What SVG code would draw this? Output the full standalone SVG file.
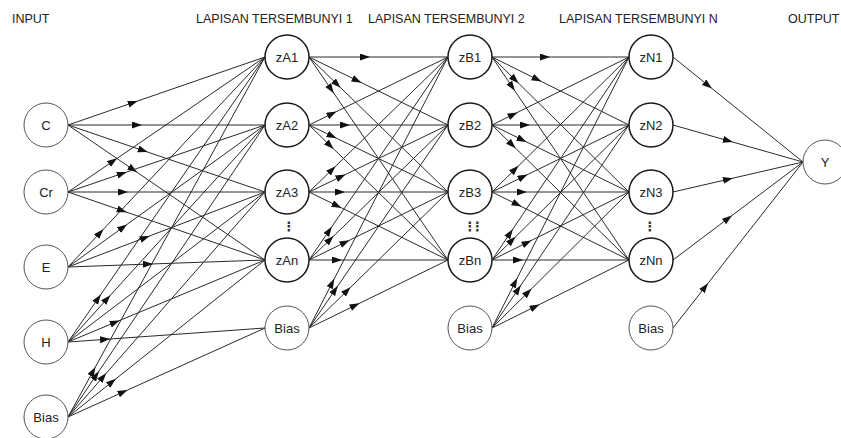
<svg xmlns="http://www.w3.org/2000/svg" width="841" height="438" viewBox="0 0 841 438">
<style>
.lbl{font-family:"Liberation Sans",Arial,sans-serif;font-size:12.5px;fill:#222}
.t{font-family:"Liberation Sans",Arial,sans-serif;font-size:13px;fill:#222;text-anchor:middle}
.dots{font-family:"DejaVu Sans",sans-serif;font-size:13px;font-weight:bold;fill:#333;text-anchor:middle}
.nb{fill:#fff;stroke:#1a1a1a;stroke-width:1.5}
.nt{fill:#fff;stroke:#555;stroke-width:1}
#connectors path{fill:none;stroke:#2a2a2a;stroke-width:1;marker-mid:url(#ah)}
</style>
<defs>
<marker id="ah" markerUnits="userSpaceOnUse" markerWidth="11" markerHeight="8" refX="5" refY="3.5" orient="auto">
<path d="M0,0 L10,3.5 L0,7 z" fill="#111"/>
</marker>
</defs>
<rect width="841" height="438" fill="#fff"/>
<text class="lbl" x="12" y="23">INPUT</text>
<text class="lbl" x="196" y="23">LAPISAN TERSEMBUNYI 1</text>
<text class="lbl" x="368" y="23">LAPISAN TERSEMBUNYI 2</text>
<text class="lbl" x="559" y="23">LAPISAN TERSEMBUNYI N</text>
<text class="lbl" x="788" y="23">OUTPUT</text>
<g id="connectors">
<!-- input -> layer A -->
<path d="M68,125 L133,102.6 L265,57"/>
<path d="M68,125 L137,125 L265,125"/>
<path d="M68,125 L143,150.5 L265,192"/>
<path d="M68,125 L133,169.5 L265,260"/>
<path d="M68,192 L113,161.2 L265,57"/>
<path d="M68,192 L122,173.6 L265,125"/>
<path d="M68,192 L123,192 L265,192"/>
<path d="M68,192 L122,210.6 L265,260"/>
<path d="M68,267 L100,232.9 L265,57"/>
<path d="M68,267 L123,227.3 L265,125"/>
<path d="M68,267 L145,237.7 L265,192"/>
<path d="M68,267 L148,264.1 L265,260"/>
<path d="M68,342 L98,298.6 L265,57"/>
<path d="M68,342 L107,299 L265,125"/>
<path d="M68,342 L265,192"/>
<path d="M68,342 L115,322.4 L265,260"/>
<path d="M68,342 L105,339.4 L265,328"/>
<path d="M68,417 L93,371.3 L265,57"/>
<path d="M68,417 L96,375.5 L265,125"/>
<path d="M68,417 L103,377 L265,192"/>
<path d="M68,417 L112,381.9 L265,260"/>
<path d="M68,417 L123,392.1 L265,328"/>
<!-- layer A -> layer B -->
<path d="M309,57 L365,57 L448,57"/>
<path d="M309,57 L357,80.5 L448,125"/>
<path d="M309,57 L337,84.2 L448,192"/>
<path d="M309,57 L331,89.1 L448,260"/>
<path d="M309,125 L332,113.8 L448,57"/>
<path d="M309,125 L345,125 L448,125"/>
<path d="M309,125 L332,136.1 L448,192"/>
<path d="M309,125 L330,145.4 L448,260"/>
<path d="M309,192 L332,169.7 L448,57"/>
<path d="M309,192 L341,176.6 L448,125"/>
<path d="M309,192 L340,192 L448,192"/>
<path d="M309,192 L337,205.7 L448,260"/>
<path d="M309,260 L329,230.8 L448,57"/>
<path d="M309,260 L330,239.6 L448,125"/>
<path d="M309,260 L345,242.4 L448,192"/>
<path d="M309,260 L337,260 L448,260"/>
<path d="M309,328 L332,283.2 L448,57"/>
<path d="M309,328 L335,290 L448,125"/>
<path d="M309,328 L347,290.8 L448,192"/>
<path d="M309,328 L355,305.5 L448,260"/>
<!-- layer B -> layer N -->
<path d="M492,57 L545,57 L629,57"/>
<path d="M492,57 L537,79.3 L629,125"/>
<path d="M492,57 L515,79.7 L629,192"/>
<path d="M492,57 L512,86.6 L629,260"/>
<path d="M492,125 L513,114.6 L629,57"/>
<path d="M492,125 L525,125 L629,125"/>
<path d="M492,125 L522,139.7 L629,192"/>
<path d="M492,125 L512,144.7 L629,260"/>
<path d="M492,192 L515,169.3 L629,57"/>
<path d="M492,192 L523,176.8 L629,125"/>
<path d="M492,192 L522,192 L629,192"/>
<path d="M492,192 L517,204.4 L629,260"/>
<path d="M492,260 L510,233.3 L629,57"/>
<path d="M492,260 L512,240.3 L629,125"/>
<path d="M492,260 L527,242.6 L629,192"/>
<path d="M492,260 L518,260 L629,260"/>
<path d="M492,328 L515,282.5 L629,57"/>
<path d="M492,328 L518,289.5 L629,125"/>
<path d="M492,328 L528,292.3 L629,192"/>
<path d="M492,328 L535,306.7 L629,260"/>
<!-- layer N -> output -->
<path d="M673,57 L708,85.3 L803,162"/>
<path d="M673,125 L728,140.7 L803,162"/>
<path d="M673,192 L728,179.3 L803,162"/>
<path d="M673,260 L728,218.5 L803,162"/>
<path d="M673,328 L705,287.1 L803,162"/>
</g>
<g id="in-C"><circle class="nt" cx="46" cy="125" r="22"/><text class="t" x="46" y="129.5">C</text></g>
<g id="in-Cr"><circle class="nt" cx="46" cy="192" r="22"/><text class="t" x="46" y="196.5">Cr</text></g>
<g id="in-E"><circle class="nt" cx="46" cy="267" r="22"/><text class="t" x="46" y="271.5">E</text></g>
<g id="in-H"><circle class="nt" cx="46" cy="342" r="22"/><text class="t" x="46" y="346.5">H</text></g>
<g id="in-Bias"><circle class="nt" cx="46" cy="417" r="22"/><text class="t" x="46" y="421.5">Bias</text></g>
<g id="zA1"><circle class="nb" cx="287" cy="57" r="22"/><text class="t" x="287" y="61.5">zA1</text></g>
<g id="zA2"><circle class="nb" cx="287" cy="125" r="22"/><text class="t" x="287" y="129.5">zA2</text></g>
<g id="zA3"><circle class="nb" cx="287" cy="192" r="22"/><text class="t" x="287" y="196.5">zA3</text></g>
<text class="dots" x="289" y="231">⋮</text>
<g id="zAn"><circle class="nb" cx="287" cy="260" r="22"/><text class="t" x="287" y="264.5">zAn</text></g>
<g id="biasA"><circle class="nt" cx="287" cy="328" r="22"/><text class="t" x="287" y="332.5">Bias</text></g>
<g id="zB1"><circle class="nb" cx="470" cy="57" r="22"/><text class="t" x="470" y="61.5">zB1</text></g>
<g id="zB2"><circle class="nb" cx="470" cy="125" r="22"/><text class="t" x="470" y="129.5">zB2</text></g>
<g id="zB3"><circle class="nb" cx="470" cy="192" r="22"/><text class="t" x="470" y="196.5">zB3</text></g>
<text class="dots" x="471" y="231" letter-spacing="-5.5">⋮⋮</text>
<g id="zBn"><circle class="nb" cx="470" cy="260" r="22"/><text class="t" x="470" y="264.5">zBn</text></g>
<g id="biasB"><circle class="nt" cx="470" cy="328" r="22"/><text class="t" x="470" y="332.5">Bias</text></g>
<g id="zN1"><circle class="nb" cx="651" cy="57" r="22"/><text class="t" x="651" y="61.5">zN1</text></g>
<g id="zN2"><circle class="nb" cx="651" cy="125" r="22"/><text class="t" x="651" y="129.5">zN2</text></g>
<g id="zN3"><circle class="nb" cx="651" cy="192" r="22"/><text class="t" x="651" y="196.5">zN3</text></g>
<text class="dots" x="650" y="231">⋮</text>
<g id="zNn"><circle class="nb" cx="651" cy="260" r="22"/><text class="t" x="651" y="264.5">zNn</text></g>
<g id="biasN"><circle class="nt" cx="651" cy="328" r="22"/><text class="t" x="651" y="332.5">Bias</text></g>
<g id="out-Y"><circle class="nt" cx="825" cy="162" r="22"/><text class="t" x="825" y="166.5">Y</text></g>
</svg>
